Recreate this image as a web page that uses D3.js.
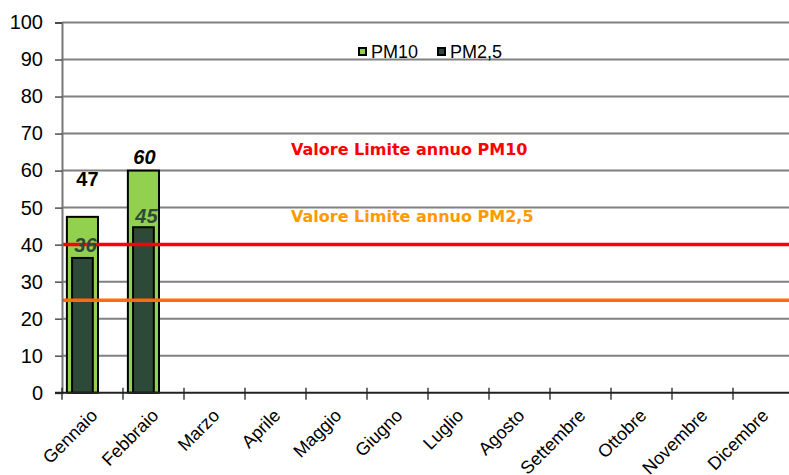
<!DOCTYPE html>
<html>
<head>
<meta charset="utf-8">
<script src="https://cdn.jsdelivr.net/npm/d3@7"></script>
<style>
  body { margin: 0; background: #fff; }
  svg { display: block; font-family: "Liberation Sans", Arial, sans-serif; }
</style>
</head>
<body>
<div id="chart"></div>
<script>
var months = ['Gennaio', 'Febbraio', 'Marzo', 'Aprile', 'Maggio', 'Giugno', 'Luglio',
  'Agosto', 'Settembre', 'Ottobre', 'Novembre', 'Dicembre'];
var pm10 = [47.5, 60, null, null, null, null, null, null, null, null, null, null];
var pm25 = [36.4, 44.7, null, null, null, null, null, null, null, null, null, null];
var pm10Labels = ['47', '60'];
var pm25Labels = ['36', '45'];
var yTicks = [0, 10, 20, 30, 40, 50, 60, 70, 80, 90, 100];
var limitPM10 = 40;
var limitPM25 = 25;

var width = 789, height = 475;
var svg = d3.select('#chart').append('svg')
  .attr('width', width)
  .attr('height', height);

var x = d3.scaleBand().domain(months).range([62, 794]);
var y = d3.scaleLinear().domain([0, 100]).range([392.7, 22.5]);
var bw = x.bandwidth();

// gridlines
svg.selectAll('line.grid').data(yTicks.filter(function(d) { return d > 0; }))
  .enter().append('line')
  .attr('class', 'grid')
  .attr('x1', 62).attr('x2', width)
  .attr('y1', function(d) { return y(d); })
  .attr('y2', function(d) { return y(d); })
  .attr('stroke', '#808080')
  .attr('stroke-width', 2);

var data = months.map(function(m, i) { return {m: m, a: pm10[i], b: pm25[i]}; })
  .filter(function(d) { return d.a != null; });

// bars PM10
svg.selectAll('rect.pm10').data(data)
  .enter().append('rect')
  .attr('class', 'pm10')
  .attr('x', function(d) { return x(d.m) + bw * 0.08; })
  .attr('width', bw * 0.51)
  .attr('y', function(d) { return y(d.a); })
  .attr('height', function(d) { return y(0) - y(d.a); })
  .attr('fill', '#92d050')
  .attr('stroke', '#000')
  .attr('stroke-width', 2);

// bars PM2,5
svg.selectAll('rect.pm25').data(data)
  .enter().append('rect')
  .attr('class', 'pm25')
  .attr('x', function(d) { return x(d.m) + bw * 0.165; })
  .attr('width', bw * 0.34)
  .attr('y', function(d) { return y(d.b); })
  .attr('height', function(d) { return y(0) - y(d.b); })
  .attr('fill', '#2d4a38')
  .attr('stroke', '#000')
  .attr('stroke-width', 2);

// limit lines
svg.append('line')
  .attr('x1', 62).attr('x2', width)
  .attr('y1', y(limitPM10)).attr('y2', y(limitPM10))
  .attr('stroke', '#ff0000').attr('stroke-width', 3.5);
svg.append('line')
  .attr('x1', 62).attr('x2', width)
  .attr('y1', y(limitPM25)).attr('y2', y(limitPM25))
  .attr('stroke', '#ff6a0a').attr('stroke-width', 3.5);

// value labels
svg.selectAll('text.l10').data(data)
  .enter().append('text')
  .attr('class', 'l10')
  .attr('x', function(d, i) { return x(d.m) + bw * 0.335 + (i == 0 ? 5 : 1); })
  .attr('y', function(d, i) { return i == 0 ? y(d.a) - 31 : y(d.a) - 7; })
  .attr('text-anchor', 'middle')
  .attr('font-size', 20)
  .attr('font-weight', 'bold')
  .attr('font-style', function(d, i) { return i == 0 ? 'normal' : 'italic'; })
  .attr('fill', '#000')
  .text(function(d, i) { return pm10Labels[i]; });

svg.selectAll('text.l25').data(data)
  .enter().append('text')
  .attr('class', 'l25')
  .attr('x', function(d, i) { return x(d.m) + bw * 0.335 + 3; })
  .attr('y', function(d, i) { return y(d.b) - (i == 0 ? 6 : 4); })
  .attr('text-anchor', 'middle')
  .attr('font-size', 20)
  .attr('font-weight', 'bold')
  .attr('font-style', 'italic')
  .attr('fill', '#2d4a38')
  .text(function(d, i) { return pm25Labels[i]; });

// y axis
var yAxis = svg.append('g')
  .attr('transform', 'translate(62,0)')
  .call(d3.axisLeft(y).tickValues(yTicks).tickSize(7).tickPadding(12));
yAxis.select('.domain').attr('stroke', '#777').attr('stroke-width', 2);
yAxis.selectAll('.tick line').attr('stroke', '#333').attr('stroke-width', 1.3);
yAxis.selectAll('.tick text')
  .attr('font-family', '"Liberation Sans", Arial, sans-serif')
  .attr('font-size', 20).attr('fill', '#000');

// x axis
var xAxis = svg.append('g')
  .attr('transform', 'translate(0,' + y(0) + ')');
xAxis.append('line')
  .attr('x1', 55).attr('x2', width)
  .attr('y1', 0).attr('y2', 0)
  .attr('stroke', '#222').attr('stroke-width', 2);
xAxis.selectAll('line.tk').data(months)
  .enter().append('line')
  .attr('class', 'tk')
  .attr('x1', function(d) { return x(d); })
  .attr('x2', function(d) { return x(d); })
  .attr('y1', -5).attr('y2', 7)
  .attr('stroke', '#222').attr('stroke-width', 1.3);
xAxis.selectAll('text').data(months)
  .enter().append('text')
  .attr('transform', function(d) {
    return 'translate(' + (x(d) + bw / 2 + 6) + ',24) rotate(-45)';
  })
  .attr('text-anchor', 'end')
  .attr('font-family', '"Liberation Sans", Arial, sans-serif')
  .attr('font-size', 18)
  .attr('fill', '#000')
  .text(function(d) { return d; });

// limit texts
svg.append('text')
  .attr('x', 291).attr('y', 155)
  .attr('font-family', '"DejaVu Sans", Verdana, sans-serif')
  .attr('font-weight', 'bold')
  .attr('font-size', 16)
  .attr('fill', '#ff0000')
  .text('Valore Limite annuo PM10');
svg.append('text')
  .attr('x', 291).attr('y', 222)
  .attr('font-family', '"DejaVu Sans", Verdana, sans-serif')
  .attr('font-weight', 'bold')
  .attr('font-size', 16)
  .attr('fill', '#ff9900')
  .text('Valore Limite annuo PM2,5');

// legend
var legend = [{name: 'PM10', c: '#92d050', x: 358}, {name: 'PM2,5', c: '#2d4a38', x: 437}];
var lg = svg.selectAll('g.lg').data(legend).enter().append('g')
  .attr('transform', function(d) { return 'translate(' + d.x + ',51.5)'; });
lg.append('rect')
  .attr('x', 1).attr('y', -3.5).attr('width', 7).attr('height', 7)
  .attr('fill', function(d) { return d.c; })
  .attr('stroke', '#000').attr('stroke-width', 2);
lg.append('text')
  .attr('x', 13).attr('y', 6.5)
  .attr('font-family', '"Liberation Sans", Arial, sans-serif')
  .attr('font-size', 18)
  .attr('fill', '#000')
  .text(function(d) { return d.name; });
</script>
</body>
</html>
